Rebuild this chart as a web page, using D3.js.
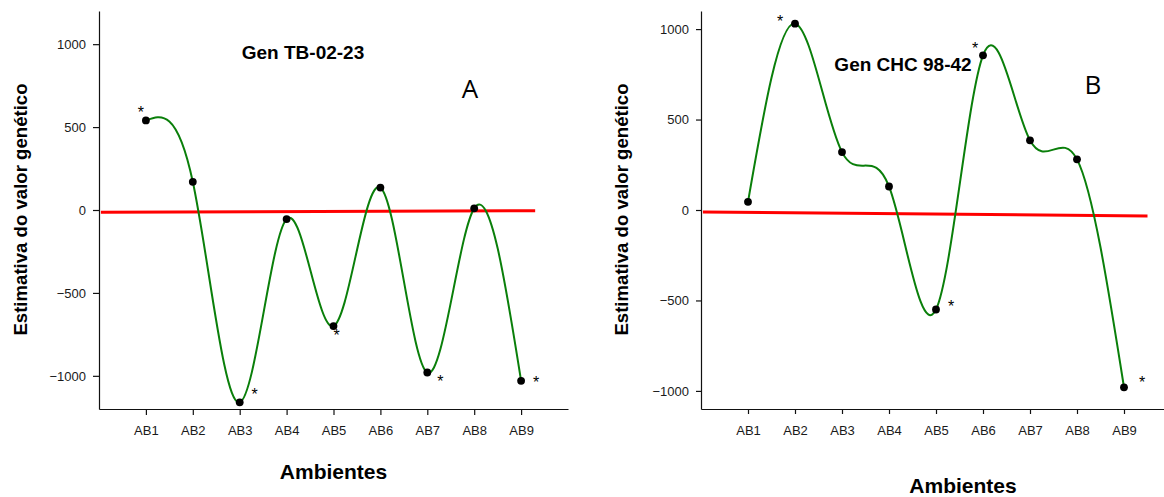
<!DOCTYPE html>
<html lang="pt">
<head>
<meta charset="UTF-8">
<title>Estimativa do valor genético</title>
<script src="https://cdn.jsdelivr.net/npm/d3@7"></script>
<style>
  body { margin: 0; background: #fff; }
  svg { display: block; font-family: Arial, "Liberation Sans", sans-serif; }
</style>
</head>
<body>
<svg id="chart" width="1164" height="497"></svg>
<script>
// ambientes (categorias)
const ambientes = ["AB1","AB2","AB3","AB4","AB5","AB6","AB7","AB8","AB9"]
const yTicks = [-1000, -500, 0, 500, 1000]

// Gen TB-02-23
const valoresA = [540, 170, -1160, -55, -700, 135, -980, 10, -1030]
const sigA = [true, false, true, false, true, false, true, false, true]
const linhaA = [-14, -4]   // linha vermelha (início, fim)

// Gen CHC 98-42
const valoresB = [45, 1030, 320, 130, -550, 855, 385, 280, -980]
const sigB = [false, true, false, false, true, true, false, false, true]
const linhaB = [-11, -33]

let svg = d3.select("#chart")

function painel(cfg) {
    let x = d3.scaleLinear().domain([0, 10]).range(cfg.xr)
    let y = d3.scaleLinear().domain(cfg.yd).range([409, 11])
    let g = svg.append("g")

    // eixo y
    let yaxis = d3.axisLeft(y).tickValues(yTicks).tickFormat(d3.format("d"))
        .tickSize(cfg.tick).tickSizeOuter(0).tickPadding(7)
    g.append("g")
        .attr("transform", "translate(" + cfg.xr[0] + ",0)")
        .call(yaxis)
        .call(a => a.selectAll("text").attr("font-size", 13).attr("fill", "#1a1a1a").attr("font-family", "Arial, 'Liberation Sans', sans-serif"))

    // eixo x
    let xaxis = d3.axisBottom(x).tickValues(d3.range(1, 10))
        .tickFormat(d => ambientes[d - 1]).tickSize(cfg.tick).tickSizeOuter(0).tickPadding(17 - cfg.tick)
    g.append("g")
        .attr("transform", "translate(0,409)")
        .call(xaxis)
        .call(a => a.selectAll("text").attr("font-size", 13).attr("fill", "#1a1a1a").attr("font-family", "Arial, 'Liberation Sans', sans-serif"))

    g.selectAll(".domain, .tick line").attr("stroke", "#111").attr("stroke-width", 1.2)

    // linha vermelha
    g.append("line")
        .attr("x1", x(0.04)).attr("x2", x(cfg.lineEnd))
        .attr("y1", y(cfg.linha[0])).attr("y2", y(cfg.linha[1]))
        .attr("stroke", "#ff0000").attr("stroke-width", 3)

    // curva suavizada (spline)
    let pts = cfg.valores.map((v, i) => [x(i + 1), y(v)])
    g.append("path")
        .attr("d", d3.line().curve(d3.curveNatural)(pts))
        .attr("fill", "none").attr("stroke", "#0a7f0a").attr("stroke-width", 2)

    g.selectAll("circle").data(cfg.valores).enter()
        .append("circle")
        .attr("cx", (d, i) => x(i + 1))
        .attr("cy", d => y(d))
        .attr("r", 3.9)
        .attr("fill", "#000")

    // asteriscos
    let k = 0
    cfg.valores.forEach((v, i) => {
        if (!cfg.sig[i]) return
        let off = cfg.starOff[k++]
        g.append("text")
            .attr("x", x(i + 1) + off[0])
            .attr("y", y(v) + off[1] + 8)
            .attr("text-anchor", "middle")
            .attr("font-size", 16)
            .text("*")
    })

    // títulos
    g.append("text").attr("x", cfg.title[0]).attr("y", cfg.title[1])
        .attr("text-anchor", "middle").attr("font-weight", "bold").attr("font-size", 19)
        .text(cfg.nome)
    g.append("text").attr("x", cfg.letra[0]).attr("y", cfg.letra[1])
        .attr("text-anchor", "middle").attr("font-size", 26)
        .attr("font-family", "'Open Sans', sans-serif")
        .text(cfg.letraTxt)
    g.append("text")
        .attr("transform", "translate(" + cfg.ylab + ",209.5) rotate(-90)")
        .attr("text-anchor", "middle").attr("dy", "0.35em")
        .attr("font-weight", "bold").attr("font-size", 18.6)
        .text("Estimativa do valor genético")
    g.append("text").attr("x", cfg.xlab[0]).attr("y", cfg.xlab[1])
        .attr("text-anchor", "middle").attr("font-weight", "bold").attr("font-size", 21)
        .text("Ambientes")
}

painel({
    xr: [99, 568], yd: [-1200, 1200], tick: 6,
    valores: valoresA, sig: sigA, linha: linhaA, lineEnd: 9.3,
    starOff: [[-5, -10], [15, -10], [3, 7], [13, 6], [15, -1]],
    nome: "Gen TB-02-23", title: [303, 59],
    letraTxt: "A", letra: [470, 98],
    ylab: 20, xlab: [333.5, 479]
})

painel({
    xr: [701, 1171], yd: [-1100, 1100], tick: 5,
    valores: valoresB, sig: sigB, linha: linhaB, lineEnd: 9.5,
    starOff: [[-15, -5], [15, -6], [-8, -9], [18, -7]],
    nome: "Gen CHC 98-42", title: [903, 71],
    letraTxt: "B", letra: [1093, 94],
    ylab: 621, xlab: [963, 493]
})
</script>
</body>
</html>
